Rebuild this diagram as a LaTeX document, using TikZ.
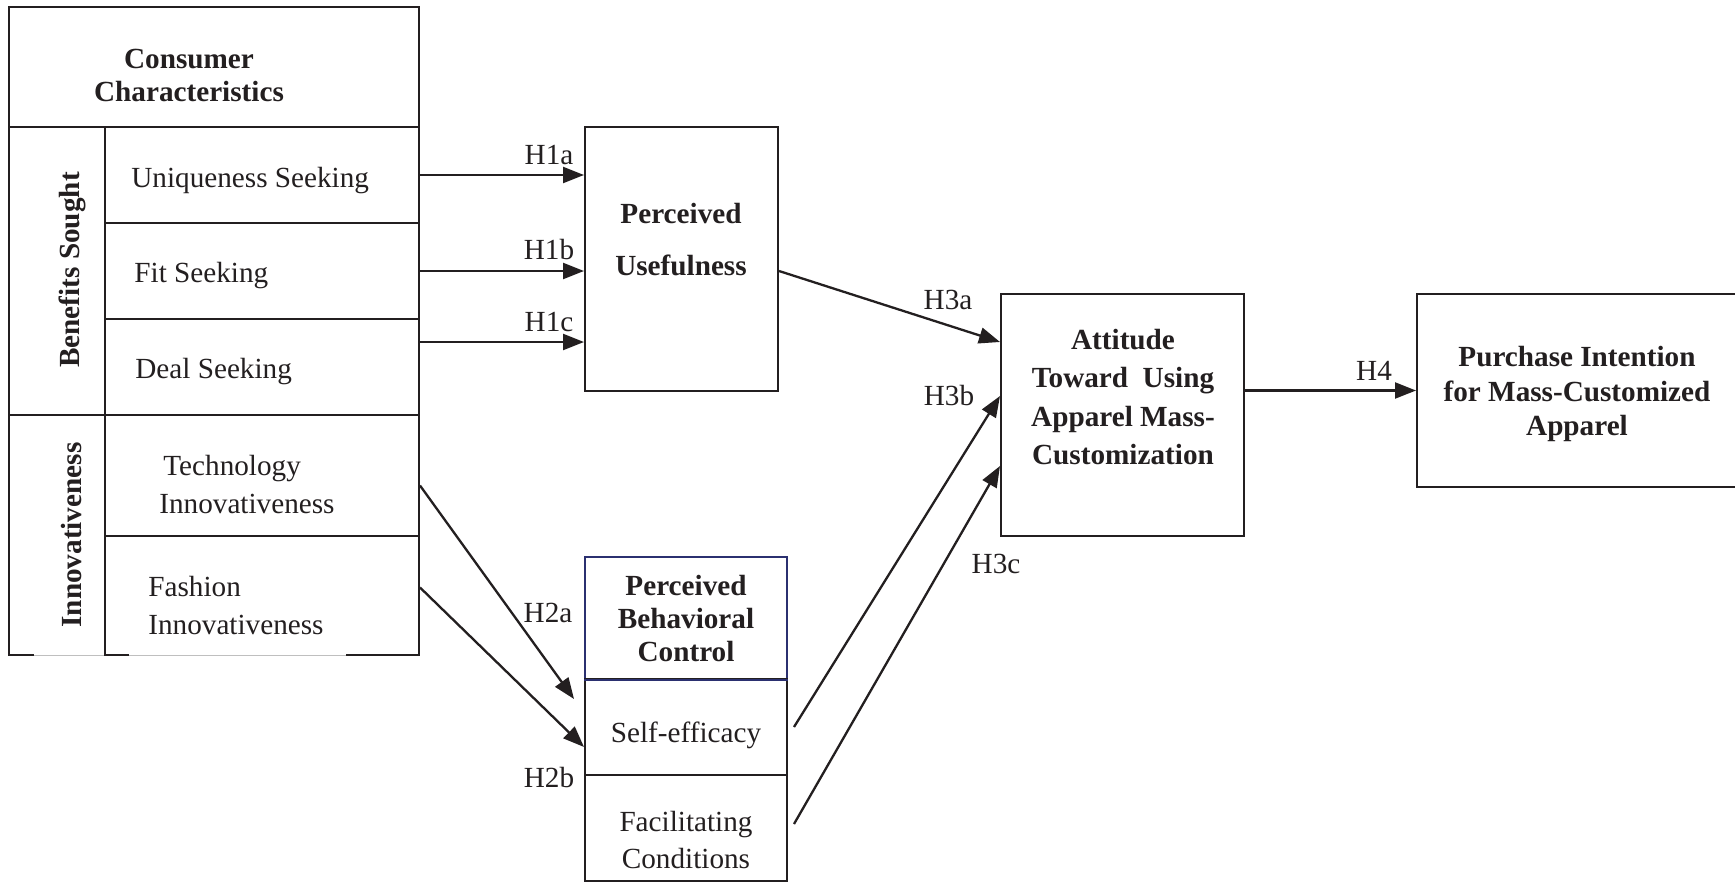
\documentclass[tikz,border=0pt]{standalone}
\usepackage{fontspec}
\setmainfont{Liberation Serif}
\usetikzlibrary{arrows.meta,calc,fit}
\definecolor{ink}{HTML}{231F20}
\definecolor{navy}{HTML}{2B3070}

\begin{document}
\begin{tikzpicture}[x=0.5pt,y=-0.5pt,
  every node/.style={text=ink},
  cell/.style={draw=ink, line width=1pt, rectangle, inner sep=0pt},
  txt/.style={font=\fontsize{14.6}{19}\selectfont, inner sep=0pt},
  bold/.style={font=\fontsize{14.6}{17}\selectfont\bfseries, align=center, inner sep=0pt},
  hyp/.style={font=\fontsize{14.6}{17}\selectfont, inner sep=0pt},
  link/.style={draw=ink, line width=1.15pt, -{Triangle[length=10.5pt,width=8pt]}},
]
\useasboundingbox (0,0) rectangle (1735,883);
\clip (0,0) rectangle (1735,883);
\fill[white] (0,0) rectangle (1735,883);

% consumer characteristics panel
\node[cell, fit={(9,7) (419,127)}] (cc) {};
\node[cell, fit={(9,127) (105,415)}] (bs) {};
\node[cell, fit={(9,415) (105,655)}] (inv) {};
\node[cell, fit={(105,127) (419,223)}] (us) {};
\node[cell, fit={(105,223) (419,319)}] (fs) {};
\node[cell, fit={(105,319) (419,415)}] (ds) {};
\node[cell, fit={(105,415) (419,536)}] (ti) {};
\node[cell, fit={(105,536) (419,655)}] (fi) {};
% faded stretches of the bottom rule
\draw[white, line width=1.6pt] (34,655) -- (104,655) (129,655) -- (346,655);
\draw[black!25, line width=0.4pt] (34,655) -- (104,655) (129,655) -- (346,655);

\node[bold, font=\fontsize{14.6}{16.5}\selectfont\bfseries] at (189,75) {Consumer\\Characteristics};
\node[bold, rotate=90] at (72,270) {Benefits Sought};
\node[bold, rotate=90] at (72,535) {Innovativeness};
\node[txt, anchor=west] at (131,181) {Uniqueness Seeking};
\node[txt, anchor=west] at (134,276) {Fit Seeking};
\node[txt, anchor=west] at (135,372) {Deal Seeking};
\node[txt, anchor=west, align=left] at (159,485) {\hspace*{2pt}Technology\\Innovativeness};
\node[txt, anchor=west, align=left] at (148,606) {Fashion\\Innovativeness};

% perceived usefulness
\node[cell, fit={(585,127) (778,391)}] (pu) {};
\node[bold, font=\fontsize{14.6}{26}\selectfont\bfseries] at (681,240) {Perceived\\Usefulness};

% perceived behavioral control
\node[cell, draw=navy, fit={(585,557) (787,679)}] (pbc) {};
\node[cell, fit={(585,679) (787,775)}] (se) {};
\node[cell, fit={(585,775) (787,881)}] (fc) {};
\draw[navy, line width=1pt] (pbc.south west) -- (pbc.south east);
\node[bold, font=\fontsize{14.6}{16.5}\selectfont\bfseries] at (686,619) {Perceived\\Behavioral\\Control};
\node[txt] at (686,735) {Self-efficacy};
\node[txt, align=center, font=\fontsize{14.6}{18.5}\selectfont] at (686,840) {Facilitating\\Conditions};

% attitude and intention
\node[cell, fit={(1001,294) (1244,536)}] (at) {};
\node[bold, font=\fontsize{14.6}{19.3}\selectfont\bfseries] at (1123,397) {Attitude\\Toward\ \ Using\\Apparel Mass-\\Customization};
\node[cell, fit={(1417,294) (1760,487)}] (pi) {};
\node[bold, font=\fontsize{14.6}{17.3}\selectfont\bfseries] at (1577,394) {Purchase Intention\\for Mass-Customized\\Apparel};

% hypothesised paths
\draw[link] (us.east) -- (us.east -| pu.west);
\draw[link] (fs.east) -- (fs.east -| pu.west);
\draw[link] ($(ds.north east)+(0,24)$) -- ($(ds.north east -| pu.west)+(0,24)$);
\draw[link] ($(ti.east)+(0,10)$) -- ($(se.north west)+(-10,21)$);
\draw[link] ($(fi.east)+(0,-8)$) -- ($(se.west)+(0,20)$);
\draw[link] ($(pu.east)+(0,12)$) -- ($(at.north west)+(0,49)$);
\draw[link] ($(se.east)+(6,0)$) -- ($(at.north west)+(0,103)$);
\draw[link] ($(fc.east)+(6,-4)$) -- ($(at.north west)+(0,173)$);
\draw[link] (pi.west -| at.east) -- (pi.west);

\node[hyp] at (549,155) {H1a};
\node[hyp] at (549,250) {H1b};
\node[hyp] at (549,322) {H1c};
\node[hyp] at (548,613) {H2a};
\node[hyp] at (549,778) {H2b};
\node[hyp] at (948,300) {H3a};
\node[hyp] at (949,396) {H3b};
\node[hyp] at (996,564) {H3c};
\node[hyp] at (1374,371) {H4};
\end{tikzpicture}
\end{document}
